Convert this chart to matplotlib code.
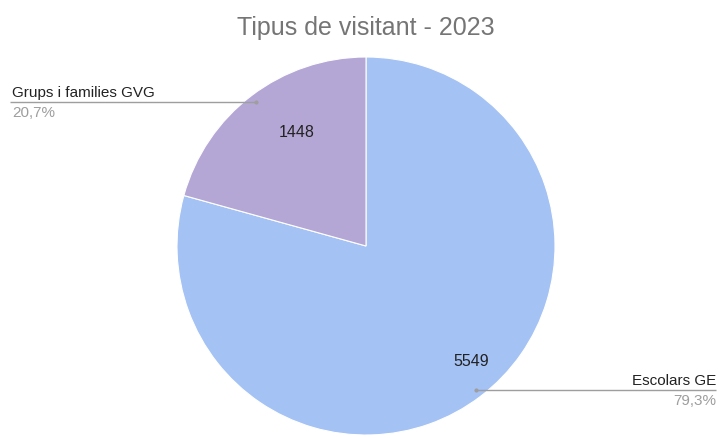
import numpy as np
import matplotlib
matplotlib.use('Agg')
import matplotlib.pyplot as plt

# donnees
categories = ['Escolars GE', 'Grups i families GVG']
valeurs = [5549, 1448]
pourcentages = ['79,3%', '20,7%']
couleurs = ['#a4c2f4', '#b4a7d6']
titre = 'Tipus de visitant - 2023'

W, H = 721, 439
fig = plt.figure(figsize=(W / 100, H / 100), dpi=100)
ax = fig.add_axes([0, 0, 1, 1])

# centre et rayon du camembert (en pixels)
cx, cy, r = 366, H - 247, 189
wedges, textes = ax.pie(valeurs, colors=couleurs, startangle=90, counterclock=False,
                        center=(cx, cy), radius=r, labels=[str(v) for v in valeurs],
                        labeldistance=0.76, frame=True,
                        wedgeprops=dict(linewidth=0.8, edgecolor='white'),
                        textprops=dict(fontsize=11.5, color='#222222', family='Liberation Sans'))
ax.axis('off')
ax.set_xlim(0, W)
ax.set_ylim(0, H)
ax.set_aspect('equal')

# lignes de rappel et etiquettes
for i, w in enumerate(wedges):
    a = np.deg2rad((w.theta1 + w.theta2) / 2)
    px = cx + 0.96 * r * np.cos(a)
    py = cy + 0.96 * r * np.sin(a)
    if np.cos(a) < 0:
        x_fin, ha = 10, 'left'
    else:
        x_fin, ha = 716, 'right'
    ax.plot([px, x_fin], [py, py], color='#9e9e9e', lw=1, solid_capstyle='butt')
    ax.plot([px], [py], 'o', color='#9e9e9e', ms=2)
    xt = x_fin + (2 if ha == 'left' else 0)
    ax.text(xt, py + 3, categories[i], ha=ha, va='bottom', fontsize=11,
            color='#222222', family='Liberation Sans')
    ax.text(xt, py - 3, pourcentages[i], ha=ha, va='top', fontsize=11,
            color='#9e9e9e', family='Liberation Sans')

fig.text(366 / W, 1 - 28 / H, titre, ha='center', va='center', fontsize=18,
         color='#757575', family='Liberation Sans')

fig.savefig('out.png', dpi=100, facecolor='white')
